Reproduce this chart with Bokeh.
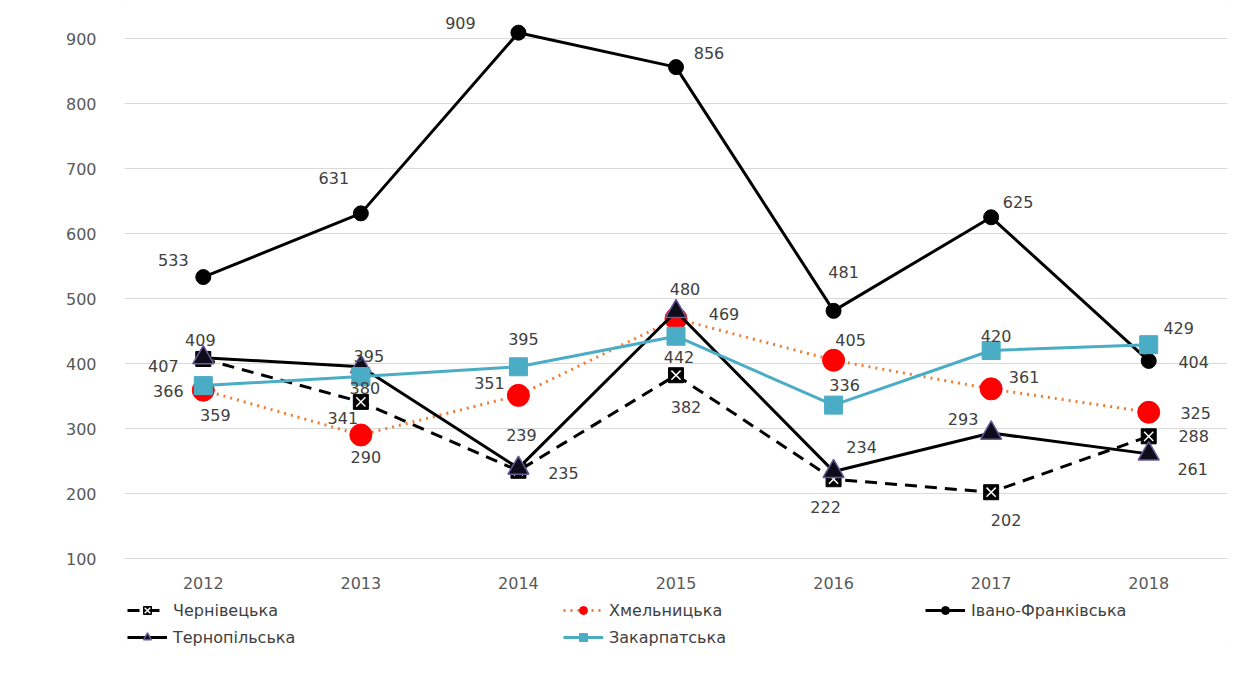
from bokeh.plotting import figure
from bokeh.models import (ColumnDataSource, FactorRange, Range1d, FixedTicker,
                          Legend, LegendItem)
from bokeh.core.properties import value
from bokeh.embed import file_html
from bokeh.resources import INLINE

# ---- data ----
years = ["2012", "2013", "2014", "2015", "2016", "2017", "2018"]
chernivetska = [407, 341, 235, 382, 222, 202, 288]
khmelnytska = [359, 290, 351, 469, 405, 361, 325]
ivano_frankivska = [533, 631, 909, 856, 481, 625, 404]
ternopilska = [409, 395, 239, 480, 234, 293, 261]
zakarpatska = [366, 380, 395, 442, 336, 420, 429]
y_ticks = [100, 200, 300, 400, 500, 600, 700, 800, 900]

names = ["Чернівецька", "Хмельницька", "Івано-Франківська", "Тернопільська", "Закарпатська"]

# label placement (screen px offsets, layout only)
label_offsets = {
    "Чернівецька": [(-40, 7), (-18, 16), (45, 2), (10, 32), (-8, 28), (15, 28), (45, 0)],
    "Хмельницька": [(12, 25), (5, 22), (-29, -12), (48, -5), (17, -20), (33, -12), (47, 1)],
    "Івано-Франківська": [(-30, -17), (-27, -35), (-58, -10), (33, -14), (10, -39), (27, -15), (45, 1)],
    "Тернопільська": [(-3, -18), (8, -11), (3, -33), (9, -23), (28, -24), (-28, -14), (44, 15)],
    "Закарпатська": [(-35, 5), (4, 11), (5, -28), (3, 21), (11, -20), (5, -15), (30, -17)],
}

p = figure(frame_width=1103, frame_height=650, output_backend="svg", toolbar_location=None,
           x_range=FactorRange(*years, range_padding=0),
           y_range=Range1d(-49.2, 950.8),
           min_border_left=124, min_border_right=32, min_border_top=5, min_border_bottom=0)
p.styles = {"outline": "1px solid #d4d4d4", "outline-offset": "-8px"}
p.outline_line_color = None
p.background_fill_color = "white"
p.border_fill_color = "white"

p.xgrid.grid_line_color = None
p.ygrid.grid_line_color = "#d9d9d9"
p.ygrid.grid_line_width = 1
p.ygrid.ticker = FixedTicker(ticks=y_ticks)
p.yaxis.ticker = FixedTicker(ticks=y_ticks)
p.yaxis.axis_line_color = None
p.yaxis.major_tick_line_color = None
p.yaxis.minor_tick_line_color = None
p.yaxis.major_label_standoff = 22
p.xaxis.fixed_location = 100
p.xaxis.axis_line_color = "#d9d9d9"
p.xaxis.major_tick_line_color = None
p.xaxis.minor_tick_line_color = None
p.xaxis.major_label_standoff = 12
for ax in (p.xaxis, p.yaxis):
    ax.major_label_text_font = "DejaVu Sans"
    ax.major_label_text_font_size = "16px"
    ax.major_label_text_color = "#595959"

src = {}
for n, vals in zip(names, [chernivetska, khmelnytska, ivano_frankivska, ternopilska, zakarpatska]):
    offs = label_offsets[n]
    src[n] = ColumnDataSource(dict(x=years, y=vals, t=[str(v) for v in vals],
                                   dx=[o[0] for o in offs], dy=[o[1] for o in offs]))

legend_items = {}

# Чернівецька: dashed black, square with X
s = src["Чернівецька"]
l1 = p.line("x", "y", source=s, line_color="black", line_width=3, line_dash="12 8")
m1 = p.scatter("x", "y", source=s, marker="square", size=15, fill_color="black", line_color="black")
m1b = p.scatter("x", "y", source=s, marker="x", size=13, line_color="white", line_width=1.5)
legend_items["Чернівецька"] = [l1, m1, m1b]

# Хмельницька: dotted orange, red circles
s = src["Хмельницька"]
l2 = p.line("x", "y", source=s, line_color="#ed7d31", line_width=3, line_dash="2 5")
m2 = p.scatter("x", "y", source=s, marker="circle", size=22, fill_color="#ff0000", line_color="#ff0000")
legend_items["Хмельницька"] = [l2, m2]

# Івано-Франківська: solid black, black circles
s = src["Івано-Франківська"]
l3 = p.line("x", "y", source=s, line_color="black", line_width=3)
m3 = p.scatter("x", "y", source=s, marker="circle", size=15, fill_color="black", line_color="black")
legend_items["Івано-Франківська"] = [l3, m3]

# Тернопільська: solid black, triangles
s = src["Тернопільська"]
l4 = p.line("x", "y", source=s, line_color="black", line_width=3)
m4 = p.scatter("x", "y", source=s, marker="triangle", size=21, fill_color="#0d0d1a",
               line_color="#6a5a9a", line_width=1.5)
legend_items["Тернопільська"] = [l4, m4]

# Закарпатська: light blue, squares
s = src["Закарпатська"]
l5 = p.line("x", "y", source=s, line_color="#4bacc6", line_width=3)
m5 = p.scatter("x", "y", source=s, marker="square", size=18, fill_color="#4bacc6", line_color="#4bacc6")
legend_items["Закарпатська"] = [l5, m5]

# data labels
for n in names:
    p.text("x", "y", text="t", source=src[n], x_offset="dx", y_offset="dy",
           text_align="center", text_baseline="middle",
           text_font=value("DejaVu Sans"), text_font_size="16px", text_color="#404040")

def make_legend(keys, x, y):
    return Legend(items=[LegendItem(label=k, renderers=legend_items[k]) for k in keys],
                  location=(x, y), orientation="vertical",
                  background_fill_alpha=0, border_line_color=None,
                  padding=0, margin=0, spacing=7, glyph_width=40, glyph_height=20,
                  label_standoff=6, label_height=20,
                  label_text_font="DejaVu Sans", label_text_font_size="16px",
                  label_text_color="#404040")

p.add_layout(make_legend(["Чернівецька", "Тернопільська"], 3, 8), "center")
p.add_layout(make_legend(["Хмельницька", "Закарпатська"], 439, 8), "center")
p.add_layout(make_legend(["Івано-Франківська"], 801, 35), "center")

open("out.html", "w").write(file_html(p, INLINE))
